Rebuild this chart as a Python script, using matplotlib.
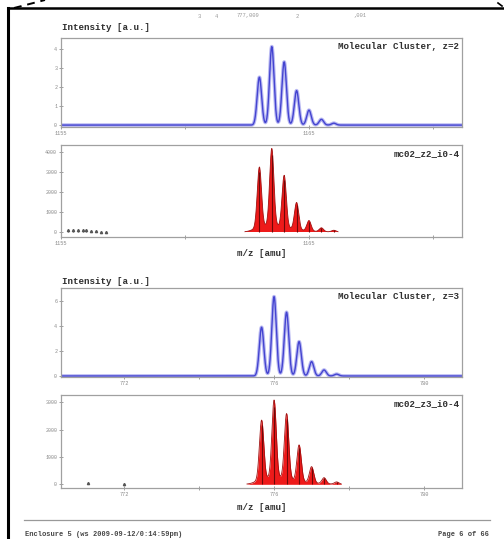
import numpy as np
import matplotlib
matplotlib.use('Agg')
import matplotlib.pyplot as plt
from matplotlib.lines import Line2D

# isotope peak positions (m/z) and heights
z2_mz = [1163.0, 1163.5, 1164.0, 1164.5, 1165.0, 1165.5, 1166.0]
z2_theo = [2.5, 4.1, 3.3, 1.8, 0.78, 0.3, 0.1]
z2_exp = [3000, 3850, 2600, 1350, 520, 190, 80]
z2_noise_mz = [1155.3, 1155.5, 1155.7, 1155.9, 1156.0, 1156.2, 1156.4, 1156.6, 1156.8]
z2_noise = [100, 120, 100, 100, 80, 40, 30, 20, 20]

z3_mz = [775.667, 776.0, 776.333, 776.667, 777.0, 777.333, 777.667]
z3_theo = [3.9, 6.35, 5.1, 2.75, 1.15, 0.48, 0.15]
z3_exp = [2170, 2840, 2380, 1320, 590, 220, 80]
z3_noise_mz = [771.05, 772.0]
z3_noise = [40, 20]

z2_xticks = [1155, 1165]
z2_xminor = [1160, 1170]
z3_xticks = [772, 776, 780]
z3_xminor = [774, 778]

W, H = 504, 539
fig = plt.figure(figsize=(W / 100, H / 100), dpi=100)
fig.patch.set_facecolor('white')

MONO = 'Liberation Mono'
GRAY = '#8a8a8a'
FRAME = '#a0a0a0'
DARK = '#2e2e2e'


def px_axes(x0, y0, x1, y1):
    return fig.add_axes([x0 / W, 1 - y1 / H, (x1 - x0) / W, (y1 - y0) / H])


def style(ax, xlim, ylim, xt, xm, yt):
    ax.set_xlim(*xlim)
    ax.set_ylim(*ylim)
    for s in ax.spines.values():
        s.set_color(FRAME)
        s.set_linewidth(0.9)
    ax.set_xticks(xt)
    ax.set_xticks(xm, minor=True)
    ax.set_xticklabels([str(t) for t in xt], fontsize=3.8, color=GRAY, family=MONO)
    ax.set_yticks(yt)
    ax.set_yticklabels([str(t) for t in yt], fontsize=3.6, color=GRAY, family=MONO)
    ax.tick_params(axis='both', which='both', color=FRAME, width=0.7, length=2.5,
                   pad=1.5, direction='inout')


def sum_peaks(mz, heights, sigma, xlim, base=0.0):
    x = np.linspace(xlim[0], xlim[1], 6000)
    y = np.zeros_like(x)
    for m, h in zip(mz, heights):
        y += h * np.exp(-0.5 * ((x - m) / sigma) ** 2)
        if base:
            y += base * h * np.exp(-0.5 * ((x - m) / (sigma * 3.0)) ** 2)
    return x, y


def draw_theo(ax, mz, heights, sigma, xlim):
    x, y = sum_peaks(mz, heights, sigma, xlim)
    ax.plot(x, y, color='#b8b8f2', lw=2.6, solid_capstyle='butt')
    ax.plot(x, y, color='#4444d0', lw=1.0)


def draw_exp(ax, mz, heights, sigma, xlim, nmz, nh):
    x, y = sum_peaks(mz, heights, sigma, xlim, base=0.07)
    ax.fill_between(x, 0, y, where=y > 0.004 * max(heights), color='#ee1a1a', lw=0)
    edge = np.where(y > 0.004 * max(heights), y, np.nan)
    ax.plot(x, edge, color='#a01010', lw=0.6)
    ax.vlines(mz, 0, heights, color='#6e0808', lw=0.8)
    ax.vlines(nmz, 0, nh, color='#555555', lw=0.8)
    ax.plot(nmz, nh, ls='none', marker='^', ms=1.6, color='#555555')


def label(ax, s):
    ax.text(0.993, 0.96, s, transform=ax.transAxes, ha='right', va='top',
            fontsize=6.6, family=MONO, weight='bold', color=DARK)


# panel 1: theoretical z=2
xl2 = (1155, 1171.17)
ax1 = px_axes(61, 38, 462, 127)
draw_theo(ax1, z2_mz, z2_theo, 0.09, xl2)
style(ax1, xl2, (-0.1, 4.55), z2_xticks, z2_xminor, [0, 1, 2, 3, 4])
label(ax1, 'Molecular Cluster, z=2')

# panel 2: measured z=2
ax2 = px_axes(61, 145, 462, 237)
draw_exp(ax2, z2_mz, z2_exp, 0.085, xl2, z2_noise_mz, z2_noise)
style(ax2, xl2, (-250, 4350), z2_xticks, z2_xminor, [0, 1000, 2000, 3000, 4000])
label(ax2, 'mc02_z2_i0-4')

# panel 3: theoretical z=3
xl3 = (770.32, 781.01)
ax3 = px_axes(61, 288, 462, 377)
draw_theo(ax3, z3_mz, z3_theo, 0.06, xl3)
style(ax3, xl3, (-0.08, 7.04), z3_xticks, z3_xminor, [0, 2, 4, 6])
label(ax3, 'Molecular Cluster, z=3')

# panel 4: measured z=3
ax4 = px_axes(61, 395, 462, 488)
draw_exp(ax4, z3_mz, z3_exp, 0.057, xl3, z3_noise_mz, z3_noise)
style(ax4, xl3, (-135, 3270), z3_xticks, z3_xminor, [0, 1000, 2000, 3000])
label(ax4, 'mc02_z3_i0-4')


# page texts
def ptext(x, y, s, **kw):
    fig.text(x / W, 1 - y / H, s, family=MONO, **kw)


ptext(62, 27, 'Intensity [a.u.]', fontsize=6.6, weight='bold', color=DARK, va='center')
ptext(62, 281, 'Intensity [a.u.]', fontsize=6.6, weight='bold', color=DARK, va='center')
ptext(262, 254, 'm/z [amu]', fontsize=6.6, weight='bold', color=DARK, ha='center', va='center')
ptext(262, 508, 'm/z [amu]', fontsize=6.6, weight='bold', color=DARK, ha='center', va='center')

for xx, s in [(199, '3'), (216, '4'), (248, '777,009'), (297, '2'), (360, ',001')]:
    ptext(xx, 16, s, fontsize=4.0, color='#999999', ha='center', va='center')

ptext(25, 534, 'Enclosure 5 (ws 2009-09-12/0:14:59pm)', fontsize=5.0, weight='bold',
      color='#444444', va='center')
ptext(489, 534, 'Page 6 of 66', fontsize=5.0, weight='bold', color='#444444',
      ha='right', va='center')


# page frame and separator
def pline(xs, ys, **kw):
    fig.add_artist(Line2D([x / W for x in xs], [1 - y / H for y in ys], **kw))


pline([8, 504], [8, 8], color='black', lw=1.8)
pline([8, 8], [8, 539], color='black', lw=2.2)
pline([14, 45], [8, 0], color='black', lw=1.4, ls=(0, (4, 3)))
pline([498, 502], [3, 6], color='black', lw=1.2)
pline([24, 490], [520, 520], color='#999999', lw=0.9)

fig.savefig('out.png', dpi=100, facecolor='white')
